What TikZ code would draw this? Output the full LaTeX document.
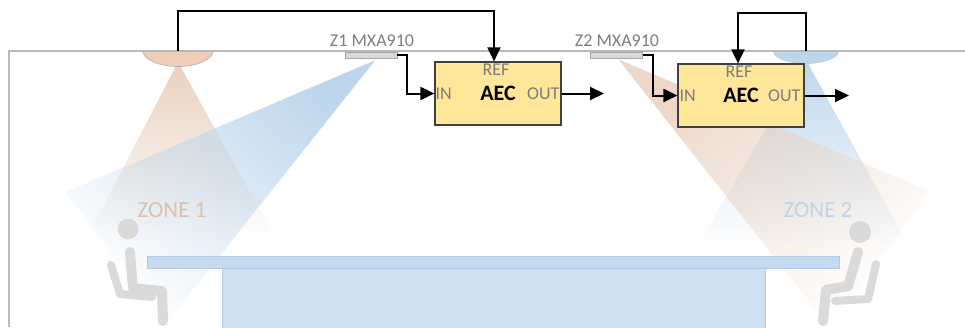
\documentclass[tikz,border=0pt]{standalone}
\usepackage{fontspec}
\setmainfont{Carlito}
\usetikzlibrary{arrows.meta, fadings}

\definecolor{zoneorange}{RGB}{233,208,190}
\definecolor{zoneblue}{RGB}{189,214,236}
\definecolor{micorangefill}{RGB}{238,206,183}
\definecolor{micbluefill}{RGB}{190,213,235}
\definecolor{zoneonetext}{RGB}{222,193,172}
\definecolor{zonetwotext}{RGB}{190,213,235}
\definecolor{aecfill}{RGB}{255,230,153}
\definecolor{roomgray}{RGB}{185,185,185}
\definecolor{labelgray}{RGB}{125,125,125}
\definecolor{tabletop}{RGB}{197,218,238}
\definecolor{tablebody}{RGB}{207,225,241}
\definecolor{tableedge}{RGB}{178,203,228}
\definecolor{persongray}{RGB}{218,218,218}

\tikzfading[name=conefade, top color=transparent!0, middle color=transparent!0, bottom color=transparent!100]

\tikzset{
    wire/.style={black, line width=2pt, -{Triangle[length=14pt, width=13pt]}},
    aecbox/.style={draw=black!75, line width=1.2pt, fill=aecfill, minimum width=126pt, minimum height=63pt, inner sep=0pt, font=\bfseries\fontsize{22}{24}\selectfont},
    portlabel/.style={text=labelgray, inner sep=2pt, font=\fontsize{18}{20}\selectfont},
    miclabel/.style={text=labelgray, inner sep=0pt, font=\fontsize{18}{20}\selectfont},
    zonelabel/.style={inner sep=0pt, font=\fontsize{23}{25}\selectfont},
    micbar/.style={draw=black!35, fill=black!15, line width=0.6pt, minimum width=52pt, minimum height=6pt, inner sep=0pt},
    room/.style={roomgray, line width=2pt},
    person/.style={persongray, line width=10pt, line cap=round, line join=round},
    chair/.style={persongray, line width=8pt, line cap=round, line join=round}
}

\begin{document}
\begin{tikzpicture}[x=1pt, y=-1pt]
        \useasboundingbox (0, 0) rectangle (965, 327);
        \fill [zoneorange, path fading=conefade] (178, 62) -- (86, 240) -- (276, 240) -- cycle;
        \fill [zoneblue, path fading=conefade, fading angle=-45] (376, 60) -- (66, 192) -- (166, 324) -- cycle;
        \fill [zoneblue, path fading=conefade] (806, 60) -- (698, 245) -- (908, 245) -- cycle;
        \fill [zoneorange, opacity=0.85, path fading=conefade, fading angle=45] (618, 58) -- (930, 190) -- (830, 327) -- cycle;
        \draw [tableedge, line width=0.8pt, fill=tablebody] (222, 268) rectangle (765, 330);
        \draw [tableedge, line width=0.8pt, fill=tabletop] (147, 256) rectangle (839, 268);
        \fill [persongray] (128, 229) circle [radius=10.5pt];
        \draw [chair] (111, 265) -- (120, 294) -- (152, 297);
        \draw [person] (130, 252) -- (133, 288) -- (162, 291) -- (163, 321);
        \fill [persongray] (860, 232) circle [radius=11pt];
        \draw [chair] (876, 264) -- (868, 299) -- (835, 301);
        \draw [person] (858, 252) -- (848, 286) -- (826, 290) -- (823, 321);
        \node [zonelabel, text=zoneonetext] (zone1) at (172, 210) {ZONE 1};
        \node [zonelabel, text=zonetwotext] (zone2) at (818, 210) {ZONE 2};
        \coordinate (c1) at (178, 50.5);
        \coordinate (c2) at (806, 50.5);
        \draw [black!30, line width=0.7pt, fill=micorangefill] ([xshift=-35pt]c1) arc [start angle=180, end angle=360, x radius=35pt, y radius=16pt] -- cycle;
        \draw [black!20, line width=0.7pt, fill=micbluefill] ([xshift=-33pt]c2) arc [start angle=180, end angle=360, x radius=33pt, y radius=13pt] -- cycle;
        \draw [room] (9, 327) -- (9, 50.5) -- (965, 50.5);
        \node [micbar] (z1bar) at (371, 55) {};
        \node [micbar] (z2bar) at (616.5, 55) {};
        \node [miclabel] (z1name) at (372, 41) {Z1 MXA910};
        \node [miclabel] (z2name) at (617, 41) {Z2 MXA910};
        \node [aecbox] (aec1) at (498, 93.5) {AEC};
        \node [aecbox] (aec2) at (741, 95.5) {AEC};
        \node [portlabel, anchor=west, inner xsep=1pt] (in1) at (aec1.west) {IN};
        \node [portlabel, anchor=east] (out1) at (aec1.east) {OUT};
        \node [portlabel, anchor=north] (ref1) at ([xshift=-2pt]aec1.north) {REF};
        \node [portlabel, anchor=west] (in2) at (aec2.west) {IN};
        \node [portlabel, anchor=east, inner xsep=4pt] (out2) at (aec2.east) {OUT};
        \node [portlabel, anchor=north] (ref2) at ([xshift=-2pt]aec2.north) {REF};
        \coordinate (out1end) at (604, 93.5);
        \coordinate (out2end) at (849, 95.5);
        \draw [wire] (c1) -- ++(0, -40) -| ([xshift=-4pt]aec1.north);
        \draw [wire] (z1bar.east) -- ++(10, 0) |- (aec1.west);
        \draw [wire] (aec1.east) -- (out1end);
        \draw [wire] (z2bar.east) -- ++(10, 0) |- (aec2.west);
        \draw [wire] (aec2.east) -- (out2end);
        \draw [wire] (c2) -- ++(0, -38) -| ([xshift=-3pt]aec2.north);
\end{tikzpicture}
\end{document}
